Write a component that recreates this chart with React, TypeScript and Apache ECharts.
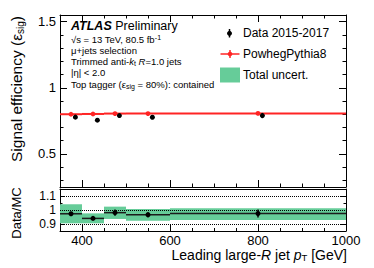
import React, { useEffect, useRef } from 'react';
import * as echarts from 'echarts';

// ---- data ----
const binLo = [350, 400, 450, 500, 600];
const binHi = [400, 450, 500, 600, 1000];
const mcEff = [0.8, 0.802, 0.805, 0.805, 0.806];
const mcErr = [0.004, 0.004, 0.004, 0.004, 0.004];
const dataEff = [0.778, 0.755, 0.79, 0.777, 0.79];
const dataErr = [0.008, 0.008, 0.012, 0.012, 0.02];
const ratioVal = [0.973, 0.94, 0.981, 0.966, 0.975];
const ratioErr = [0.01, 0.01, 0.022, 0.018, 0.028];
const bandLo = [0.905, 0.905, 0.936, 0.924, 0.929];
const bandHi = [1.041, 0.976, 1.024, 1.007, 1.012];
const refLines = [0.9, 1, 1.1];

// ---- axis ticks ----
const xMajorTicks = [400, 600, 800, 1000];
const effMajorTicks = [0.5, 1, 1.5];
const effMinorTicks = [0.3, 0.4, 0.6, 0.7, 0.8, 0.9, 1.1, 1.2, 1.3, 1.4];
const ratioMajorTicks = [0.9, 1, 1.1];
const ratioMinorTicks = [0.95, 1.05];

const DATA_SHIFT = 10; // data drawn slightly right of the MC marker
const FONT = 'Liberation Sans';
const BLACK = '#000';
const RED = '#ff2424';
const GREEN = '#66cc99';

const rows = (a: number[], b: number[]) => binLo.map((lo, i) => [lo, binHi[i], a[i], b[i]]);
const plain = (v: number) => String(v);

export default function App() {
  const ref = useRef<HTMLDivElement>(null);
  useEffect(() => {
    document.body.style.margin = '0';
    const chart = echarts.init(ref.current!, null, { renderer: 'svg' });
    const line = { color: BLACK, width: 1 };
    const xBase = (gridIndex: number, position: string, extra: any) => ({
      type: 'value', gridIndex, position, min: 350, max: 1000,
      axisLine: { show: false, onZero: false, lineStyle: line },
      axisLabel: { show: false },
      splitLine: { show: false },
      axisTick: { show: false },
      ...extra,
    });
    const yBase = (gridIndex: number, position: string, min: number, max: number, extra: any) => ({
      type: 'value', gridIndex, position, min, max,
      axisLine: { show: false, onZero: false, lineStyle: line },
      axisLabel: { show: false },
      splitLine: { show: false },
      axisTick: { show: false },
      ...extra,
    });
    const tick = (len: number, vals?: number[]) => ({
      show: true, inside: true, length: len, lineStyle: line,
      ...(vals ? { customValues: vals } : {}),
    });
    const axisLineOn = { show: true, onZero: false, lineStyle: line };

    const option: any = {
      animation: false,
      backgroundColor: '#fff',
      textStyle: { fontFamily: FONT },
      grid: [
        { left: 60, right: 28, top: 15, height: 172, outerBoundsMode: 'none' },
        { left: 60, right: 28, top: 189, height: 42, outerBoundsMode: 'none' },
      ],
      xAxis: [
        xBase(0, 'bottom', { interval: 50, axisLine: axisLineOn, axisTick: tick(3.5) }),
        xBase(0, 'bottom', { axisTick: tick(7, xMajorTicks) }),
        xBase(0, 'top', { interval: 50, axisLine: axisLineOn, axisTick: tick(3.5) }),
        xBase(0, 'top', { axisTick: tick(7, xMajorTicks) }),
        xBase(1, 'bottom', { interval: 50, axisLine: axisLineOn, axisTick: tick(3) }),
        xBase(1, 'bottom', {
          axisTick: tick(6, xMajorTicks),
          axisLabel: {
            show: true, customValues: xMajorTicks, formatter: plain,
            color: BLACK, fontSize: 13, margin: 3, fontFamily: FONT,
          },
        }),
        xBase(1, 'top', { axisLine: axisLineOn }),
      ],
      yAxis: [
        yBase(0, 'left', 0.25, 1.55, {
          axisLine: axisLineOn, axisTick: tick(7, effMajorTicks),
          axisLabel: { show: true, customValues: effMajorTicks, formatter: plain, color: BLACK, fontSize: 13, margin: 4, fontFamily: FONT },
        }),
        yBase(0, 'left', 0.25, 1.55, { axisTick: tick(3.5, effMinorTicks) }),
        yBase(0, 'right', 0.25, 1.55, { axisLine: axisLineOn, axisTick: tick(7, effMajorTicks) }),
        yBase(0, 'right', 0.25, 1.55, { axisTick: tick(3.5, effMinorTicks) }),
        yBase(1, 'left', 0.85, 1.15, {
          axisLine: axisLineOn, axisTick: tick(5, ratioMajorTicks),
          axisLabel: { show: true, customValues: ratioMajorTicks, formatter: plain, color: BLACK, fontSize: 12, margin: 4, fontFamily: FONT },
        }),
        yBase(1, 'left', 0.85, 1.15, { axisTick: tick(2.5, ratioMinorTicks) }),
        yBase(1, 'right', 0.85, 1.15, { axisLine: axisLineOn, axisTick: tick(5, ratioMajorTicks) }),
        yBase(1, 'right', 0.85, 1.15, { axisTick: tick(2.5, ratioMinorTicks) }),
      ],
      series: [
        {
          name: 'PowhegPythia8', type: 'custom', xAxisIndex: 0, yAxisIndex: 0,
          data: rows(mcEff, mcErr), encode: { x: [0, 1], y: [2] },
          renderItem: (_p: any, api: any) => {
            const lo = api.value(0), hi = api.value(1), v = api.value(2), e = api.value(3);
            const c = (lo + hi) / 2;
            const a = api.coord([lo, v]), b = api.coord([hi, v]), m = api.coord([c, v]);
            const t = api.coord([c, v + e]), bt = api.coord([c, v - e]);
            return {
              type: 'group', children: [
                { type: 'line', shape: { x1: a[0], y1: a[1], x2: b[0], y2: b[1] }, style: { stroke: RED, lineWidth: 2 } },
                { type: 'line', shape: { x1: t[0], y1: t[1], x2: bt[0], y2: bt[1] }, style: { stroke: RED, lineWidth: 1.5 } },
                { type: 'circle', shape: { cx: m[0], cy: m[1], r: 2.4 }, style: { fill: RED } },
              ],
            };
          },
        },
        {
          name: 'Data 2015-2017', type: 'custom', xAxisIndex: 0, yAxisIndex: 0,
          data: rows(dataEff, dataErr), encode: { x: [0, 1], y: [2] },
          renderItem: (_p: any, api: any) => {
            const lo = api.value(0), hi = api.value(1), v = api.value(2), e = api.value(3);
            const c = (lo + hi) / 2 + DATA_SHIFT;
            const m = api.coord([c, v]), t = api.coord([c, v + e]), bt = api.coord([c, v - e]);
            return {
              type: 'group', children: [
                { type: 'line', shape: { x1: t[0], y1: t[1], x2: bt[0], y2: bt[1] }, style: { stroke: BLACK, lineWidth: 1.5 } },
                { type: 'circle', shape: { cx: m[0], cy: m[1], r: 2.5 }, style: { fill: BLACK } },
              ],
            };
          },
        },
        {
          name: 'Total uncert.', type: 'custom', xAxisIndex: 4, yAxisIndex: 4,
          data: rows(bandLo, bandHi), encode: { x: [0, 1], y: [2, 3] },
          renderItem: (_p: any, api: any) => {
            const lo = api.value(0), hi = api.value(1), bl = api.value(2), bh = api.value(3);
            const a = api.coord([lo, bh]), b = api.coord([hi, bl]);
            return { type: 'rect', shape: { x: a[0], y: a[1], width: b[0] - a[0], height: b[1] - a[1] }, style: { fill: GREEN } };
          },
          markLine: {
            silent: true, symbol: ['none', 'none'], label: { show: false },
            lineStyle: { type: 'dotted', color: BLACK, width: 1 },
            data: refLines.map((v) => ({ yAxis: v })),
          },
        },
        {
          name: 'Data/MC', type: 'custom', xAxisIndex: 4, yAxisIndex: 4,
          data: rows(ratioVal, ratioErr), encode: { x: [0, 1], y: [2] },
          renderItem: (_p: any, api: any) => {
            const lo = api.value(0), hi = api.value(1), v = api.value(2), e = api.value(3);
            const c = (lo + hi) / 2;
            const a = api.coord([lo, v]), b = api.coord([hi, v]), m = api.coord([c, v]);
            const t = api.coord([c, v + e]), bt = api.coord([c, v - e]);
            return {
              type: 'group', children: [
                { type: 'line', shape: { x1: a[0], y1: a[1], x2: b[0], y2: b[1] }, style: { stroke: '#1b1b1b', lineWidth: 1.5 } },
                { type: 'line', shape: { x1: t[0], y1: t[1], x2: bt[0], y2: bt[1] }, style: { stroke: BLACK, lineWidth: 1.5 } },
                { type: 'circle', shape: { cx: m[0], cy: m[1], r: 2.5 }, style: { fill: BLACK } },
              ],
            };
          },
        },
      ],
      graphic: [
        // ATLAS label block
        {
          type: 'text', x: 71, y: 26,
          style: {
            text: '{b|ATLAS}{n| Preliminary}', verticalAlign: 'middle', align: 'left',
            rich: {
              b: { fontSize: 12.5, fontWeight: 'bold', fontStyle: 'italic', fontFamily: FONT, fill: BLACK },
              n: { fontSize: 12.5, fontFamily: FONT, fill: BLACK },
            },
          },
        },
        ...[
          { y: 39.5, text: '{n|√s = 13 TeV, 80.5 fb}{sup|-1}' },
          { y: 50.7, text: '{n|μ+jets selection}' },
          { y: 61.7, text: '{n|Trimmed anti-}{i|k}{sub|t}{n| }{i|R}{n|=1.0 jets}' },
          { y: 72, text: '{n||η| < 2.0}' },
          { y: 84.3, text: '{n|Top tagger (ε}{sub|sig}{n| = 80%): contained}' },
        ].map((l) => ({
          type: 'text', x: 71, y: l.y,
          style: {
            text: l.text, verticalAlign: 'middle', align: 'left',
            rich: {
              n: { fontSize: 9.5, lineHeight: 11, fontFamily: FONT, fill: BLACK },
              i: { fontSize: 9.5, lineHeight: 11, fontStyle: 'italic', fontFamily: FONT, fill: BLACK },
              sub: { fontSize: 7, lineHeight: 4, verticalAlign: 'bottom', fontFamily: FONT, fill: BLACK },
              sup: { fontSize: 7, lineHeight: 4, verticalAlign: 'top', fontFamily: FONT, fill: BLACK },
            },
          },
        })),
        // legend
        { type: 'line', shape: { x1: 229.5, y1: 29, x2: 229.5, y2: 37.5 }, style: { stroke: BLACK, lineWidth: 1.5 } },
        { type: 'circle', shape: { cx: 229.5, cy: 33.3, r: 2.5 }, style: { fill: BLACK } },
        { type: 'text', x: 243, y: 33.3, style: { text: 'Data 2015-2017', fontSize: 12, fontFamily: FONT, fill: BLACK, verticalAlign: 'middle' } },
        { type: 'line', shape: { x1: 220.5, y1: 54, x2: 239.5, y2: 54 }, style: { stroke: RED, lineWidth: 1.5 } },
        { type: 'line', shape: { x1: 230, y1: 50, x2: 230, y2: 58 }, style: { stroke: RED, lineWidth: 1.5 } },
        { type: 'circle', shape: { cx: 230, cy: 54, r: 2.3 }, style: { fill: RED } },
        { type: 'text', x: 243, y: 54, style: { text: 'PowhegPythia8', fontSize: 12, fontFamily: FONT, fill: BLACK, verticalAlign: 'middle' } },
        { type: 'rect', shape: { x: 220, y: 67.5, width: 20, height: 15 }, style: { fill: GREEN } },
        { type: 'text', x: 243, y: 75, style: { text: 'Total uncert.', fontSize: 12, fontFamily: FONT, fill: BLACK, verticalAlign: 'middle' } },
        // axis titles
        {
          type: 'text', x: 16, y: 89, rotation: Math.PI / 2,
          style: {
            text: '{n|Signal efficiency (ε}{sub|sig}{n|)}', align: 'center', verticalAlign: 'middle',
            rich: {
              n: { fontSize: 15.5, lineHeight: 18, fontFamily: FONT, fill: BLACK },
              sub: { fontSize: 10, lineHeight: 7, verticalAlign: 'bottom', fontFamily: FONT, fill: BLACK },
            },
          },
        },
        {
          type: 'text', x: 16, y: 213, rotation: Math.PI / 2,
          style: { text: 'Data/MC', fontSize: 13, fontFamily: FONT, fill: BLACK, align: 'center', verticalAlign: 'middle' },
        },
        {
          type: 'text', x: 347, y: 255,
          style: {
            text: '{n|Leading large-}{i|R}{n| jet }{i|p}{sub|T}{n| [GeV]}', align: 'right', verticalAlign: 'middle',
            rich: {
              n: { fontSize: 14, lineHeight: 14, fontFamily: FONT, fill: BLACK },
              i: { fontSize: 14, lineHeight: 14, fontStyle: 'italic', fontFamily: FONT, fill: BLACK },
              sub: { fontSize: 9.5, lineHeight: 4, verticalAlign: 'bottom', fontFamily: FONT, fill: BLACK },
            },
          },
        },
      ],
    };
    chart.setOption(option);
    return () => chart.dispose();
  }, []);
  return (
    <div
      ref={ref}
      style={{ position: 'fixed', left: 0, top: 0, width: 374, height: 268, background: '#fff' }}
    />
  );
}
